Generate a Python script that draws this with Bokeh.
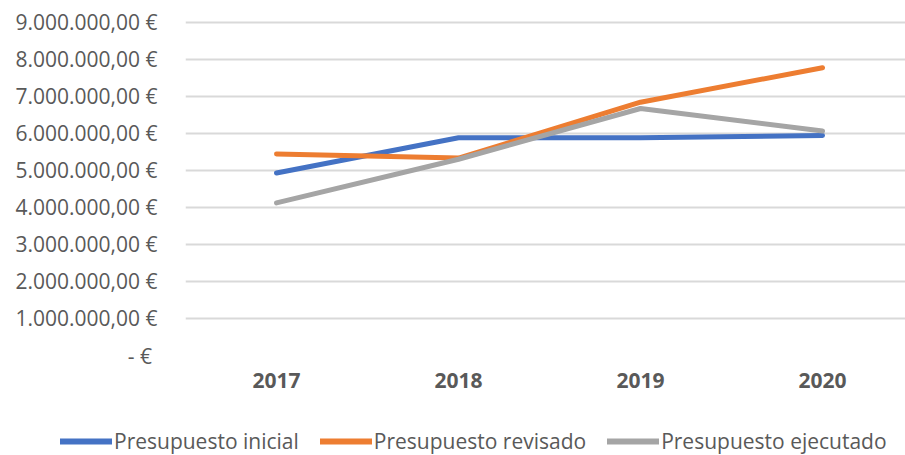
from bokeh.plotting import figure
from bokeh.models import Range1d, FixedTicker, Legend, LegendItem
from bokeh.layouts import column
from bokeh.embed import file_html
from bokeh.resources import INLINE

years = ["2017", "2018", "2019", "2020"]
inicial = [4930000, 5880000, 5880000, 5940000]
revisado = [5440000, 5330000, 6840000, 7770000]
ejecutado = [4120000, 5300000, 6670000, 6060000]
series_names = ["Presupuesto inicial", "Presupuesto revisado", "Presupuesto ejecutado"]
y_ticks = [0, 1000000, 2000000, 3000000, 4000000, 5000000, 6000000, 7000000, 8000000, 9000000]
y_labels = ["-  €", "1.000.000,00 €", "2.000.000,00 €", "3.000.000,00 €", "4.000.000,00 €",
            "5.000.000,00 €", "6.000.000,00 €", "7.000.000,00 €", "8.000.000,00 €", "9.000.000,00 €"]
colors = ["#4472C4", "#ED7D31", "#A5A5A5"]

xs = list(range(len(years)))
FONT = "Open Sans"
TXT = "#595959"

p = figure(width=905, height=420, output_backend="svg", toolbar_location=None,
           x_range=Range1d(-0.5, 3.456), y_range=Range1d(0, 9.208e6),
           min_border_left=185, min_border_right=0, min_border_top=14, min_border_bottom=65)
p.outline_line_color = None
p.background_fill_color = "white"
p.frame_align = False

p.xgrid.grid_line_color = None
p.ygrid.grid_line_color = "#d9d9d9"
p.ygrid.grid_line_width = 2
p.ygrid.ticker = FixedTicker(ticks=y_ticks)

p.yaxis.ticker = FixedTicker(ticks=y_ticks)
p.yaxis.major_label_overrides = {t: l for t, l in zip(y_ticks, y_labels)}
p.xaxis.ticker = FixedTicker(ticks=xs)
p.xaxis.major_label_overrides = {i: y for i, y in zip(xs, years)}

for ax in (p.xaxis, p.yaxis):
    ax.axis_line_color = None
    ax.major_tick_line_color = None
    ax.minor_tick_line_color = None
    ax.major_tick_out = 0
    ax.major_tick_in = 0
    ax.major_label_text_color = TXT
    ax.major_label_text_font = FONT
    ax.major_label_text_font_size = "21px"
p.yaxis.major_label_standoff = 28
p.xaxis.major_label_text_font_style = "bold"
p.xaxis.major_label_standoff = 17

for vals, c in zip([inicial, revisado, ejecutado], colors):
    p.line(xs, vals, line_color=c, line_width=5, line_cap="round", line_join="round")

# legend strip below the chart
lg = figure(width=905, height=35, output_backend="svg", toolbar_location=None,
            x_range=Range1d(0, 1), y_range=Range1d(0, 1),
            x_axis_type=None, y_axis_type=None,
            min_border_left=0, min_border_right=0, min_border_top=0, min_border_bottom=0)
lg.outline_line_color = None
lg.frame_align = False
lg.xgrid.grid_line_color = None
lg.ygrid.grid_line_color = None
items = []
for name, c in zip(series_names, colors):
    r = lg.line([float("nan")], [float("nan")], line_color=c, line_width=6, line_cap="round")
    items.append(LegendItem(label=name, renderers=[r]))
legend = Legend(items=items, orientation="horizontal", location=(60, 0),
                glyph_width=52, glyph_height=20, label_standoff=2, spacing=21,
                padding=0, margin=0, border_line_alpha=0, background_fill_alpha=0,
                label_text_font=FONT, label_text_font_size="21px", label_text_color=TXT)
lg.add_layout(legend)

open("out.html", "w").write(file_html(column(p, lg), INLINE))
